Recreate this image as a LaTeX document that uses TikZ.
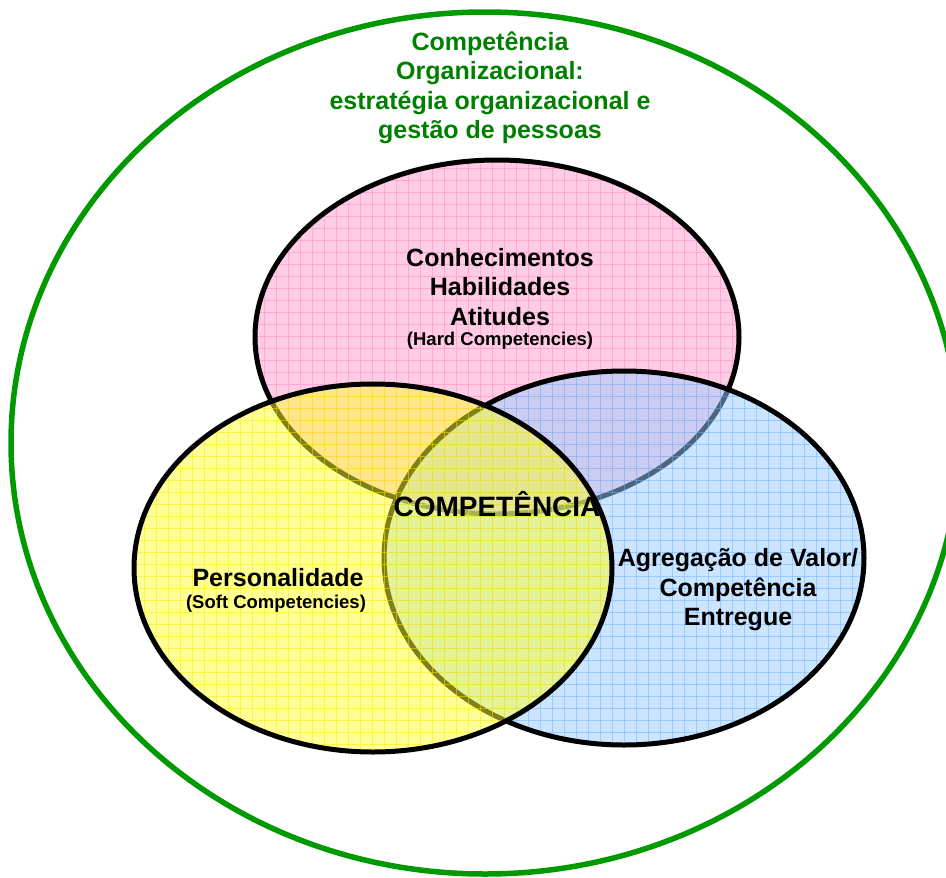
\documentclass[tikz,border=0pt]{standalone}
\usepackage{fontspec}
\setmainfont{Liberation Sans}
\definecolor{orgGreen}{RGB}{0,153,0}
\definecolor{orgText}{RGB}{0,128,0}
\definecolor{hardFill}{RGB}{255,204,229}
\definecolor{hardGrid}{RGB}{255,168,212}
\definecolor{valueFill}{RGB}{153,204,255}
\definecolor{valueGrid}{RGB}{110,180,255}
\definecolor{softFill}{RGB}{255,255,51}
\definecolor{softGrid}{RGB}{255,232,0}

% one set of the Venn diagram: tinted, gridded interior and a heavy outline
% #1 cx, #2 cy, #3 rx, #4 ry, #5 fill, #6 grid colour, #7 opacity
\newcommand\vennset[7]{%
  \begin{scope}
    \clip (#1,#2) ellipse [x radius=#3, y radius=#4];
    \fill[#5, fill opacity=#7] (#1-#3,#2-#4) rectangle (#1+#3,#2+#4);
    \begin{scope}[#6, line width=0.9, draw opacity=#7]
      \foreach \gx in {0,12,...,948} \draw (\gx,0) -- (\gx,878);
      \foreach \gy in {0,12,...,876} \draw (0,\gy) -- (946,\gy);
    \end{scope}
  \end{scope}
  \draw[line width=5] (#1,#2) ellipse [x radius=#3, y radius=#4];
}

\begin{document}
\begin{tikzpicture}[x=1pt, y=-1pt,
  bigtxt/.style={align=center, font=\fontsize{25}{29.5}\selectfont\bfseries},
  smalltxt/.style={align=center, font=\fontsize{18.5}{21}\selectfont\bfseries},
  inner sep=0pt]
  \useasboundingbox (0,0) rectangle (946,878);
  \clip (0,0) rectangle (946,878);
  \fill[white] (0,0) rectangle (946,878);

  % organisational frame
  \draw[orgGreen, line width=5.5] (485,443) ellipse [x radius=474, y radius=431];

  % hard competencies, value delivered, soft competencies
  \vennset{497}{337}{242}{177}{hardFill}{hardGrid}{1}
  \vennset{624}{558}{240}{187}{valueFill}{valueGrid}{0.5}
  \vennset{373}{568}{239}{184}{softFill}{softGrid}{0.5}

  % labels
  \node[bigtxt, text=orgText] (org) at (490,88)
    {Competência\\Organizacional:\\estratégia organizacional e\\gestão de pessoas};
  \node[bigtxt] (hard) at (500,287) {Conhecimentos\\Habilidades\\Atitudes};
  \node[smalltxt] (hardsub) at (500,341) {(Hard Competencies)};
  \node[font=\fontsize{28}{32}\selectfont\bfseries] (core) at (497,504) {COMPETÊNCIA};
  \node[bigtxt] (soft) at (278,578) {Personalidade};
  \node[smalltxt] (softsub) at (276,604) {(Soft Competencies)};
  \node[bigtxt] (value) at (738,590) {Agregação de Valor/\\Competência\\Entregue};
\end{tikzpicture}
\end{document}
